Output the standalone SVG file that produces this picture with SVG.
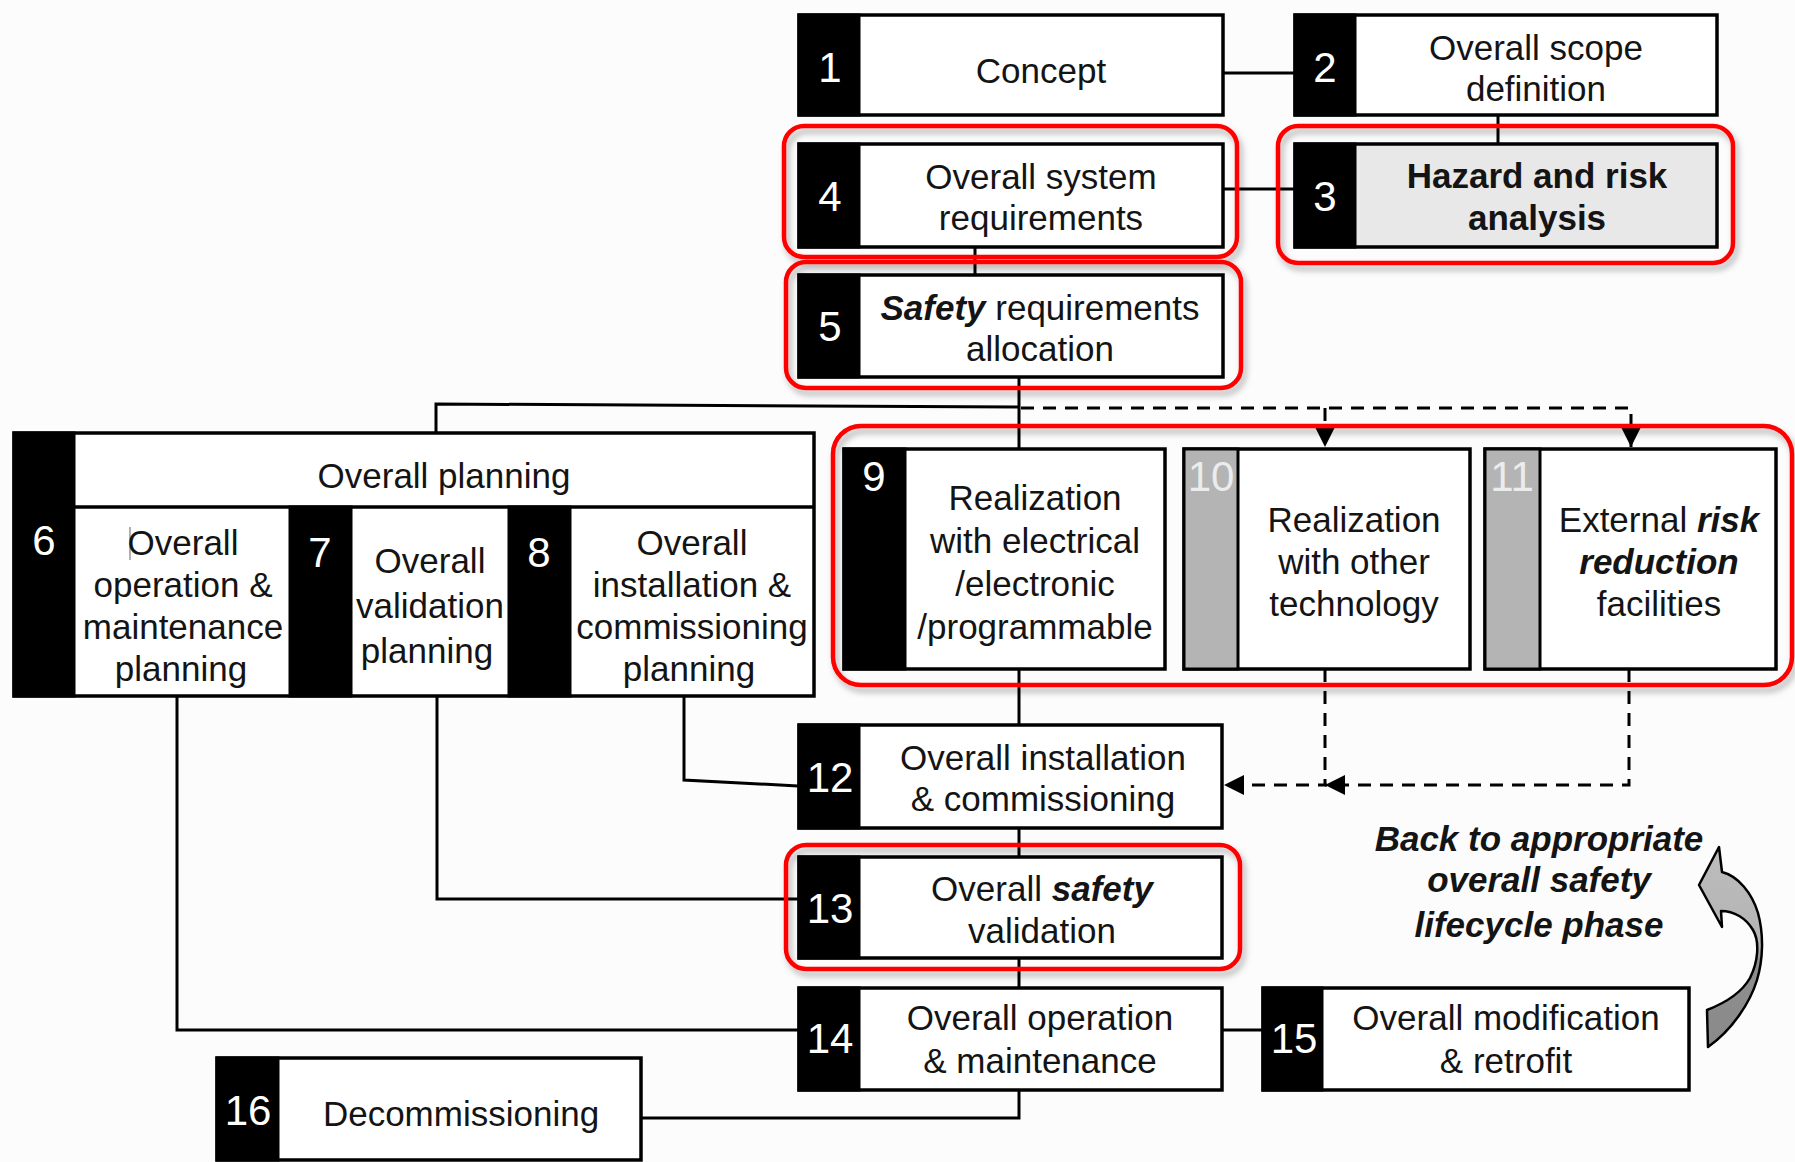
<svg xmlns="http://www.w3.org/2000/svg" width="1795" height="1162" viewBox="0 0 1795 1162">
<defs>
<style>
.box{fill:#fff;stroke:#000;stroke-width:3.5}
.bar{fill:#000;stroke:#000;stroke-width:3}
.gbar{fill:#b4b4b4;stroke:#000;stroke-width:3}
.num{font-family:"Liberation Sans",Arial,sans-serif;font-size:42px;fill:#fff;text-anchor:middle}
.gnum{fill:#ececec}
.t{font-family:"Liberation Sans",Arial,sans-serif;font-size:35px;fill:#141414;text-anchor:middle}
.bi{font-weight:bold;font-style:italic}
.b{font-weight:bold}
.hl{fill:none;stroke:#f00;stroke-width:4.5;filter:url(#sh)}
.ln{fill:none;stroke:#000;stroke-width:3}
.dash{fill:none;stroke:#000;stroke-width:3;stroke-dasharray:13 9}
</style>
<filter id="sh" x="-5%" y="-10%" width="110%" height="125%">
<feDropShadow dx="3" dy="5" stdDeviation="3" flood-color="#000" flood-opacity="0.3"/>
</filter>
<marker id="ah" viewBox="0 0 20 20" refX="20" refY="10" markerWidth="20" markerHeight="20" markerUnits="userSpaceOnUse" orient="auto">
<path d="M0 0 L20 10 L0 20 Z" fill="#000"/>
</marker>
<linearGradient id="ag" gradientUnits="userSpaceOnUse" x1="0" y1="847" x2="0" y2="1048">
<stop offset="0" stop-color="#bdbdbd"/>
<stop offset="0.5" stop-color="#b3b3b3"/>
<stop offset="0.56" stop-color="#8e8e8e"/>
<stop offset="1" stop-color="#8a8a8a"/>
</linearGradient>
</defs>
<rect width="1795" height="1162" fill="#fcfcfc"/>

<g id="connectors">
<path class="ln" d="M1223 73 H1295"/>
<path class="ln" d="M1498 115 V144"/>
<path class="ln" d="M1223 189 H1295"/>
<path class="ln" d="M975 247 V275"/>
<path class="ln" d="M1019 377 V448"/>
<path class="ln" d="M1019 407 L436 404 V433"/>
<path class="ln" d="M1019 669 V725"/>
<path class="ln" d="M1019 828 V857"/>
<path class="ln" d="M1019 958 V988"/>
<path class="ln" d="M1019 1090 V1118 H641"/>
<path class="ln" d="M1222 1030 H1263"/>
<path class="ln" d="M177 696 V1030 H798"/>
<path class="ln" d="M437 696 V899 H798"/>
<path class="ln" d="M684 696 V780 L798 786"/>
<path class="dash" d="M1021 408 H1631 V447" marker-end="url(#ah)"/>
<path class="dash" d="M1325 408 V447" marker-end="url(#ah)"/>
<path class="dash" d="M1629 669 V785 H1325" marker-end="url(#ah)"/>
<path class="dash" d="M1325 669 V785 H1224" marker-end="url(#ah)"/>
</g>

<g id="node-1">
<rect class="box" x="799" y="15" width="424" height="100"/>
<rect class="bar" x="799" y="15" width="60" height="100"/>
<text class="num" x="830" y="82">1</text>
<text class="t" x="1041" y="83">Concept</text>
</g>

<g id="node-2">
<rect class="box" x="1295" y="15" width="422" height="100"/>
<rect class="bar" x="1295" y="15" width="60" height="100"/>
<text class="num" x="1325" y="82">2</text>
<text class="t" x="1536" y="60">Overall scope</text>
<text class="t" x="1536" y="101">definition</text>
</g>

<g id="node-3">
<rect class="box" x="1295" y="144" width="422" height="103" style="fill:#e8e8e8"/>
<rect class="bar" x="1295" y="144" width="60" height="103"/>
<text class="num" x="1325" y="211">3</text>
<text class="t b" x="1537" y="188">Hazard and risk</text>
<text class="t b" x="1537" y="230">analysis</text>
</g>

<g id="node-4">
<rect class="box" x="799" y="144" width="424" height="103"/>
<rect class="bar" x="799" y="144" width="60" height="103"/>
<text class="num" x="830" y="211">4</text>
<text class="t" x="1041" y="189">Overall system</text>
<text class="t" x="1041" y="230">requirements</text>
</g>

<g id="node-5">
<rect class="box" x="799" y="275" width="424" height="102"/>
<rect class="bar" x="799" y="275" width="60" height="102"/>
<text class="num" x="830" y="341">5</text>
<text class="t" x="1040" y="320"><tspan class="bi">Safety</tspan> requirements</text>
<text class="t" x="1040" y="361">allocation</text>
</g>

<g id="node-overall-planning">
<rect class="box" x="14" y="433" width="800" height="263"/>
<rect class="bar" x="14" y="433" width="60" height="263"/>
<line x1="74" y1="507" x2="814" y2="507" stroke="#000" stroke-width="3.5"/>
<text class="t" x="444" y="488">Overall planning</text>
<g id="node-6">
<text class="num" x="44" y="555">6</text>
<line x1="130" y1="527" x2="130" y2="560" stroke="#999" stroke-width="1.5"/>
<text class="t" x="183" y="555">Overall</text>
<text class="t" x="183" y="597">operation &amp;</text>
<text class="t" x="183" y="639">maintenance</text>
<text class="t" x="181" y="681">planning</text>
</g>
<g id="node-7">
<rect class="bar" x="290" y="507" width="61" height="189"/>
<text class="num" x="320" y="567">7</text>
<text class="t" x="430" y="573">Overall</text>
<text class="t" x="430" y="618">validation</text>
<text class="t" x="427" y="663">planning</text>
</g>
<g id="node-8">
<rect class="bar" x="509" y="507" width="61" height="189"/>
<text class="num" x="539" y="567">8</text>
<text class="t" x="692" y="555">Overall</text>
<text class="t" x="692" y="597">installation &amp;</text>
<text class="t" x="692" y="639">commissioning</text>
<text class="t" x="689" y="681">planning</text>
</g>
</g>

<g id="node-9">
<rect class="box" x="844" y="449" width="321" height="220"/>
<rect class="bar" x="844" y="449" width="61" height="220"/>
<text class="num" x="874" y="491">9</text>
<text class="t" x="1035" y="510">Realization</text>
<text class="t" x="1035" y="553">with electrical</text>
<text class="t" x="1035" y="596">/electronic</text>
<text class="t" x="1035" y="639">/programmable</text>
</g>

<g id="node-10">
<rect class="box" x="1184" y="449" width="286" height="220"/>
<rect class="gbar" x="1184" y="449" width="54" height="220"/>
<text class="num gnum" x="1211" y="491">10</text>
<text class="t" x="1354" y="532">Realization</text>
<text class="t" x="1354" y="574">with other</text>
<text class="t" x="1354" y="616">technology</text>
</g>

<g id="node-11">
<rect class="box" x="1485" y="449" width="291" height="220"/>
<rect class="gbar" x="1485" y="449" width="55" height="220"/>
<text class="num gnum" x="1512" y="491">11</text>
<text class="t" x="1659" y="532">External <tspan class="bi">risk</tspan></text>
<text class="t bi" x="1659" y="574">reduction</text>
<text class="t" x="1659" y="616">facilities</text>
</g>

<g id="node-12">
<rect class="box" x="799" y="725" width="423" height="103"/>
<rect class="bar" x="799" y="725" width="60" height="103"/>
<text class="num" x="830" y="792">12</text>
<text class="t" x="1043" y="770">Overall installation</text>
<text class="t" x="1043" y="811">&amp; commissioning</text>
</g>

<g id="node-13">
<rect class="box" x="799" y="857" width="423" height="101"/>
<rect class="bar" x="799" y="857" width="60" height="101"/>
<text class="num" x="830" y="923">13</text>
<text class="t" x="1042" y="901">Overall <tspan class="bi">safety</tspan></text>
<text class="t" x="1042" y="943">validation</text>
</g>

<g id="node-14">
<rect class="box" x="799" y="988" width="423" height="102"/>
<rect class="bar" x="799" y="988" width="60" height="102"/>
<text class="num" x="830" y="1053">14</text>
<text class="t" x="1040" y="1030">Overall operation</text>
<text class="t" x="1040" y="1073">&amp; maintenance</text>
</g>

<g id="node-15">
<rect class="box" x="1263" y="988" width="426" height="102"/>
<rect class="bar" x="1263" y="988" width="59" height="102"/>
<text class="num" x="1294" y="1053">15</text>
<text class="t" x="1506" y="1030">Overall modification</text>
<text class="t" x="1506" y="1073">&amp; retrofit</text>
</g>

<g id="node-16">
<rect class="box" x="217" y="1058" width="424" height="102"/>
<rect class="bar" x="217" y="1058" width="61" height="102"/>
<text class="num" x="248" y="1125">16</text>
<text class="t" x="461" y="1126">Decommissioning</text>
</g>

<g id="highlights">
<rect class="hl" x="784" y="126" width="453" height="131" rx="20"/>
<rect class="hl" x="1278" y="126" width="455" height="137" rx="20"/>
<rect class="hl" x="786" y="262" width="455" height="126" rx="20"/>
<rect class="hl" x="833" y="426" width="959" height="259" rx="28"/>
<rect class="hl" x="786" y="845" width="454" height="124" rx="20"/>
</g>

<g id="back-note">
<text class="t bi" x="1539" y="851">Back to appropriate</text>
<text class="t bi" x="1539" y="892">overall safety</text>
<text class="t bi" x="1539" y="937">lifecycle phase</text>
<path d="M1719 847 L1722 872 C1738 876 1752 893 1758 913 C1764 935 1763 960 1757 980 C1750 1003 1732 1030 1708 1047 L1707 1010 C1725 1003 1742 992 1750 978 C1758 962 1760 942 1753 930 C1746 918 1734 911 1721 911 L1722 927 L1699 885 Z" fill="url(#ag)" stroke="#000" stroke-width="2.5" stroke-linejoin="round"/>
</g>
</svg>
